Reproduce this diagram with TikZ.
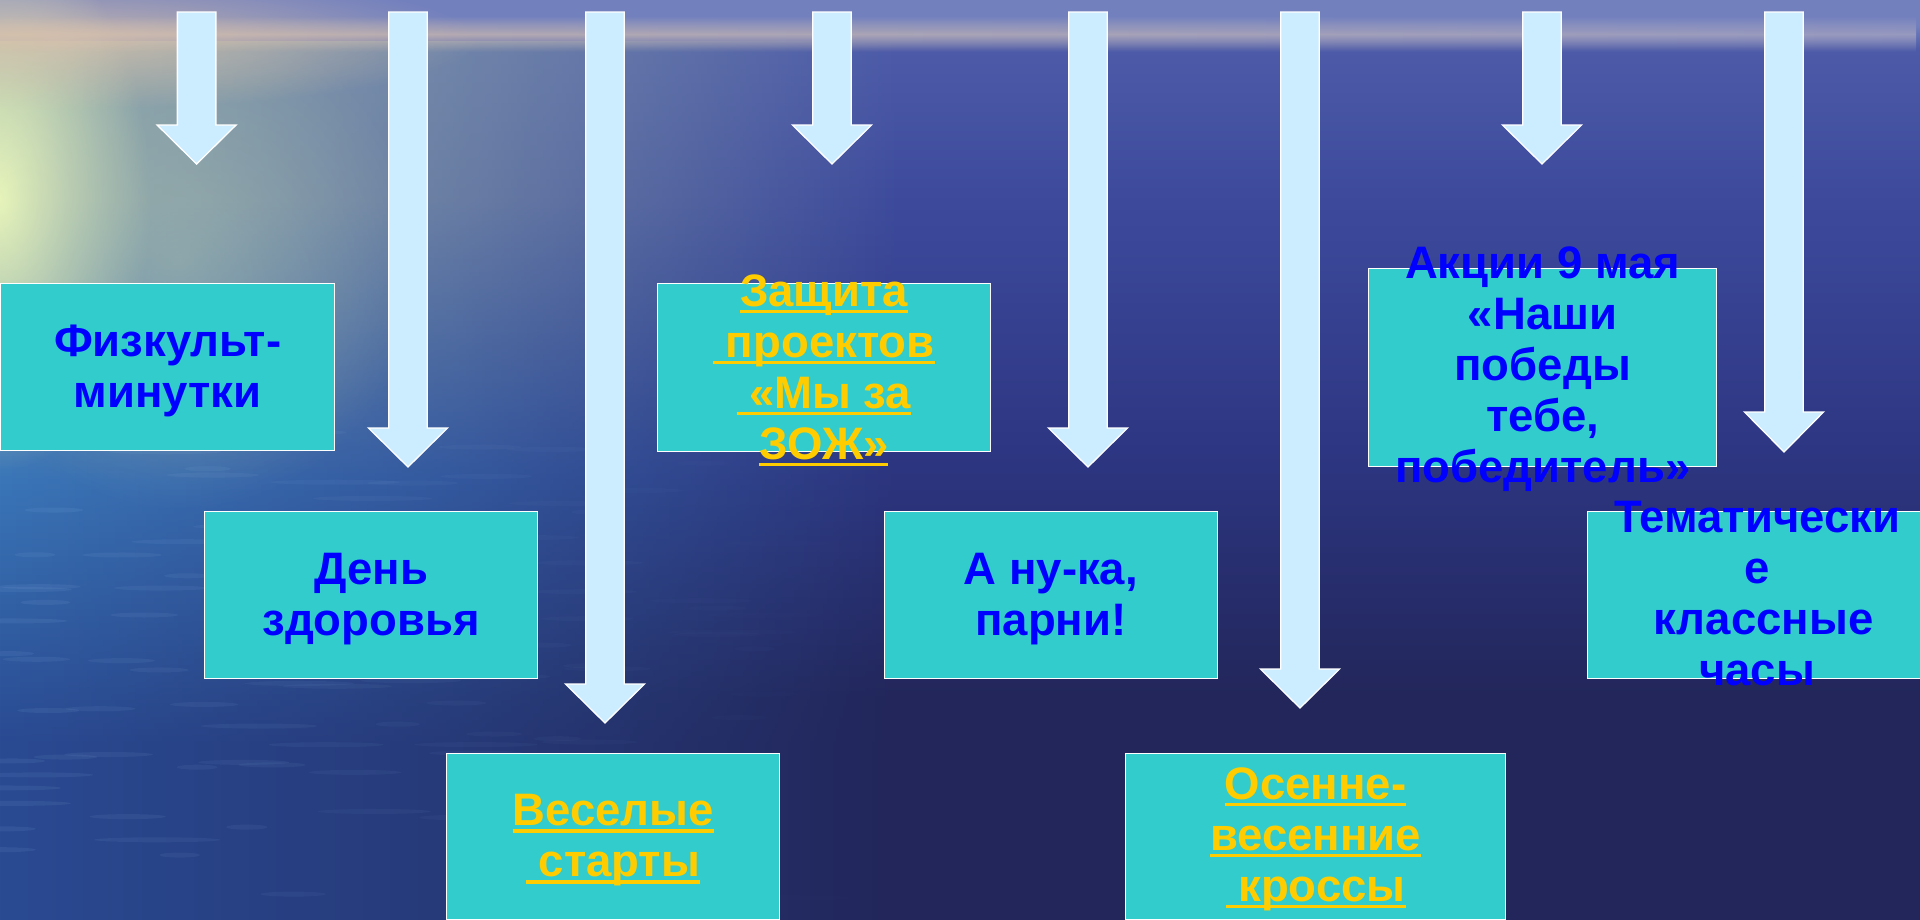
\documentclass[tikz,border=0pt]{standalone}
\usepackage{fontspec}
\setmainfont{Liberation Sans}
\usetikzlibrary{fadings}
\definecolor{boxteal}{HTML}{33CCCC}
\definecolor{arrowfill}{HTML}{CCECFF}
\definecolor{txtblue}{HTML}{0000FF}
\definecolor{txtyellow}{HTML}{FFCC00}
\definecolor{skytop}{HTML}{7280BE}
\definecolor{seatop}{HTML}{4C5AA8}
\definecolor{seaupper}{HTML}{3D4A9C}
\definecolor{seamid}{HTML}{2D3682}
\definecolor{seabot}{HTML}{22265A}
\definecolor{lefttop}{HTML}{8EA8AA}
\definecolor{leftmid}{HTML}{3A76B8}
\definecolor{leftbot}{HTML}{2A4A92}
\definecolor{glowcol}{HTML}{EEFABC}
\definecolor{hazeL}{HTML}{D8C2AC}
\definecolor{hazeR}{HTML}{A8A6C2}
\definecolor{ripple}{HTML}{9CC4EE}
\pgfdeclareverticalshading{seav}{100bp}{color(0bp)=(seabot); color(37bp)=(seabot); color(50.5bp)=(seamid); color(64bp)=(seaupper); color(72.3bp)=(seatop); color(73.6bp)=(skytop); color(100bp)=(skytop)}
\pgfdeclareverticalshading{leftv}{100bp}{color(0bp)=(leftbot); color(35bp)=(leftbot); color(50bp)=(leftmid); color(66bp)=(lefttop); color(100bp)=(lefttop)}
\tikzfading[name=fadeRight, left color=transparent!0, right color=transparent!100, middle color=transparent!45]
\tikzfading[name=fadeBand, top color=transparent!100, bottom color=transparent!100, middle color=transparent!25]
\tikzfading[name=fadeGlow, inner color=transparent!0, outer color=transparent!100]
\newcommand\ulx[1]{\setbox0=\hbox{#1}\rlap{\raisebox{-6.8pt}{\rule{\wd0}{3.4pt}}}\box0}
\newcommand\blockarr[4]{%
  \coordinate (#1top) at (#2,12);
  \coordinate (#1tip) at (#2,#4);
  \draw[barrow] (#2-19.25,12) -- (#2+19.25,12) -- (#2+19.25,#3) -- (#2+39.5,#3)
     -- (#1tip) -- (#2-39.5,#3) -- (#2-19.25,#3) -- cycle;}
\tikzset{
  tbox/.style={draw=white, line width=1.3pt, fill=boxteal, inner sep=0pt, anchor=north west},
  lab/.style={font=\fontsize{45.5}{51}\selectfont\bfseries, align=center, inner sep=0pt},
  blab/.style={lab, text=txtblue},
  ylab/.style={lab, text=txtyellow},
  barrow/.style={fill=arrowfill, draw=white, line width=1.3pt, line join=miter}
}
\begin{document}
\begin{tikzpicture}[x=1pt,y=-1pt]
\useasboundingbox (0,0) rectangle (1920,919);
\clip (0,0) rectangle (1920,919);
% background sea
\shade[shading=seav] (0,0) rectangle (1920,919);
\shade[shading=leftv, path fading=fadeRight] (0,40) rectangle (900,919);
\pgfmathsetseed{11}
\foreach \i in {1,...,110}{
  \pgfmathsetmacro\rx{rnd*800}
  \pgfmathsetmacro\ry{430+rnd*480}
  \pgfmathsetmacro\rl{20+rnd*45}
  \pgfmathsetmacro\ro{0.09*(1-\rx/900)}
  \fill[ripple, opacity=\ro] (\rx,\ry) ellipse [x radius=\rl, y radius=2.5];
}
\fill[glowcol, path fading=fadeGlow] (0,200) ellipse [x radius=150, y radius=270];
\fill[lefttop!70!glowcol, path fading=fadeGlow, opacity=0.5] (180,260) ellipse [x radius=240, y radius=250];
\fill[hazeL, path fading=fadeGlow, opacity=0.8] (60,40) ellipse [x radius=420, y radius=70];
\shade[left color=hazeL, right color=hazeR, path fading=fadeBand] (0,16) rectangle (1920,52);
% boxes
\node[tbox, minimum width=334pt, minimum height=167pt] (b1) at (0,283) {};
\node[tbox, minimum width=332.5pt, minimum height=168pt] (b2) at (657,283) {};
\node[tbox, minimum width=348pt, minimum height=198pt] (b3) at (1368,268) {};
\node[tbox, minimum width=333pt, minimum height=167pt] (b4) at (204,511) {};
\node[tbox, minimum width=333.5pt, minimum height=167pt] (b5) at (883.5,511) {};
\node[tbox, minimum width=340pt, minimum height=167pt] (b6) at (1586.5,511) {};
\node[tbox, minimum width=333pt, minimum height=166pt] (b7) at (446,752.5) {};
\node[tbox, minimum width=380pt, minimum height=166pt] (b8) at (1125,752.5) {};
% arrows
\blockarr{a1}{196.6}{125}{164}
\blockarr{a2}{408}{428}{467}
\blockarr{a3}{605}{684}{723}
\blockarr{a4}{832}{125}{164}
\blockarr{a5}{1088}{428}{467}
\blockarr{a6}{1300}{669}{708}
\blockarr{a7}{1542}{125}{164}
\blockarr{a8}{1784}{412}{452}
% labels
\node[blab, yshift=-5pt] (t1) at (b1.center) {\strut Физкульт-\\\strut минутки};
\node[ylab, yshift=-5pt] (t2) at (b2.center) {\strut\ulx{Защита}\\\strut\ulx{\ проектов}\\\strut\ulx{\ «Мы за}\\\strut\ulx{ЗОЖ»}};
\node[blab, yshift=-3pt] (t3) at (b3.center) {\strut Акции 9 мая\\\strut «Наши\\\strut победы\\\strut тебе,\\\strut победитель»};
\node[blab, yshift=-5pt] (t4) at (b4.center) {\strut День\\\strut здоровья};
\node[blab, yshift=-5pt] (t5) at (b5.center) {\strut А ну-ка,\\\strut парни!};
\node[blab, yshift=-4pt] (t6) at (b6.center) {\strut Тематически\\\strut е\\\strut\ классные\\\strut часы};
\node[ylab, yshift=-5pt] (t7) at (b7.center) {\strut\ulx{Веселые}\\\strut\ulx{\ старты}};
\node[ylab, yshift=-4pt] (t8) at (b8.center) {\strut\ulx{Осенне-}\\\strut\ulx{весенние}\\\strut\ulx{\ кроссы}};
\end{tikzpicture}
\end{document}
